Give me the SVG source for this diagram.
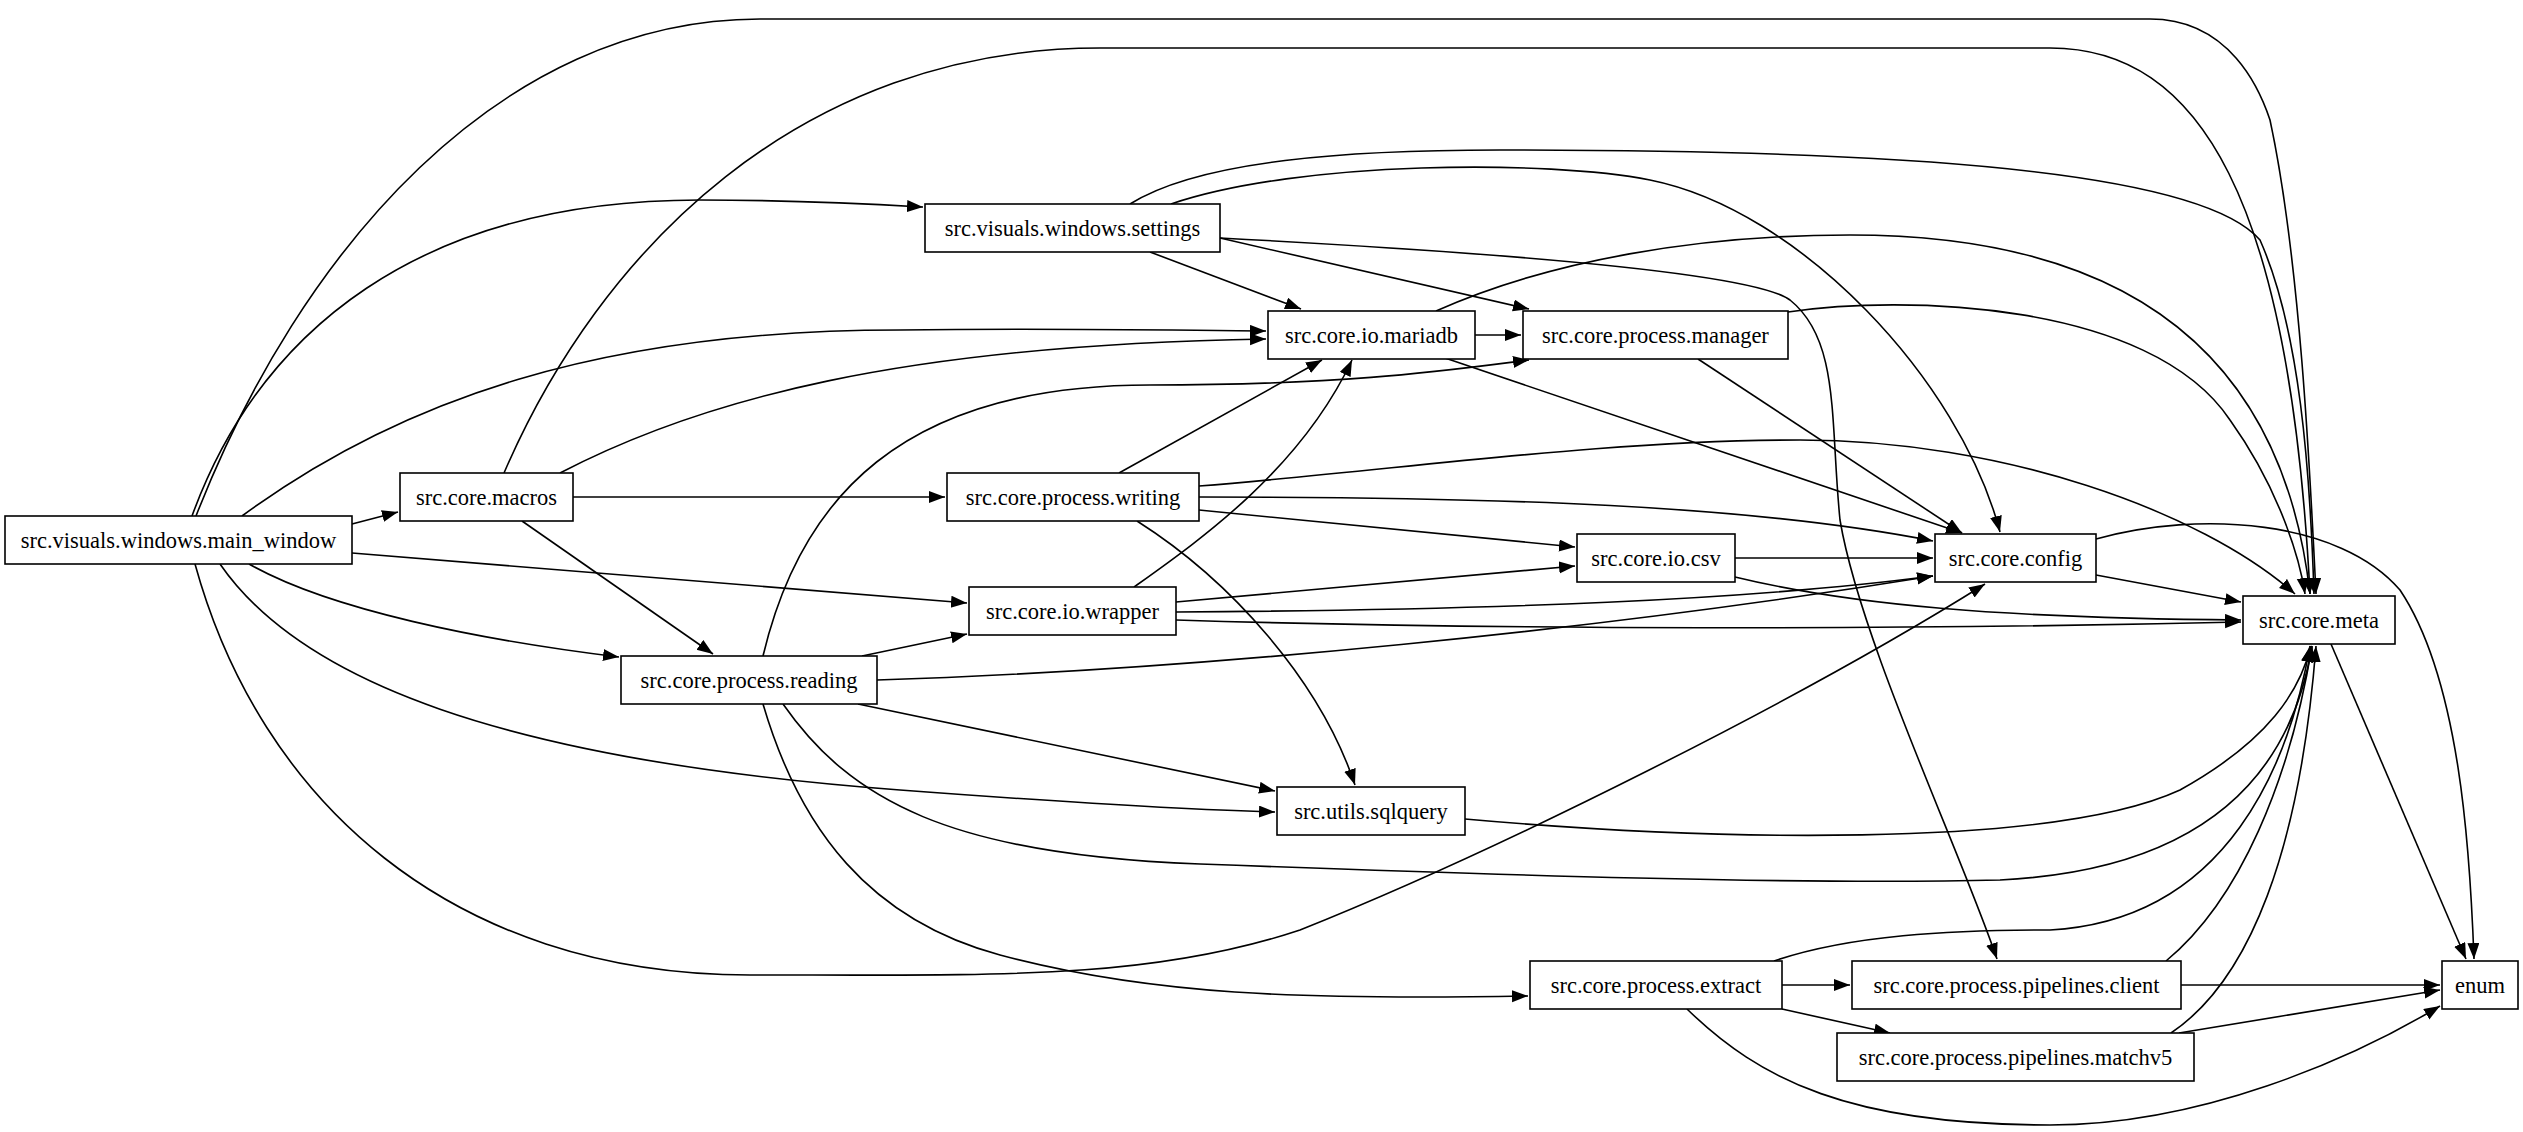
<svg xmlns="http://www.w3.org/2000/svg" width="2523" height="1132" viewBox="0 0 2523 1132">
<style>
.n rect{fill:#fff;stroke:#000;stroke-width:1.6}
.n text{font-family:"Liberation Serif",serif;font-size:22.5px;text-anchor:middle;dominant-baseline:central;fill:#000}
.e path{fill:none;stroke:#000;stroke-width:1.6;marker-end:url(#a)}
</style>
<defs><marker id="a" markerUnits="userSpaceOnUse" markerWidth="18" markerHeight="14" refX="16" refY="6" orient="auto"><path d="M0,0 L16,6 L0,12 Z" fill="#000"/></marker></defs>
<rect width="2523" height="1132" fill="#fff"/>
<g class="e">
<path d="M196,516 C300,250 500,19 760,19 L2150,19 C2230,19 2260,90 2270,120 C2300,260 2310,470 2316,594"/>
<path d="M504,473 C600,250 800,48 1100,48 L2050,48 C2200,48 2290,200 2310,594"/>
<path d="M192,516 C260,330 420,200 700,200 C800,200 870,204 923,207"/>
<path d="M1130,204 C1200,160 1350,150 1500,150 C1900,150 2200,170 2260,240 C2300,330 2310,470 2314,594"/>
<path d="M1171,204 C1300,160 1550,160 1650,180 C1800,210 1960,380 2000,532"/>
<path d="M1150,252 L1301,309"/>
<path d="M1220,238 L1529,309"/>
<path d="M1220,238 C1450,250 1750,270 1790,300 C1840,340 1830,420 1840,520 C1860,640 1960,850 1997,959"/>
<path d="M242,516 C400,400 600,330 900,330 C1050,328 1150,330 1266,331"/>
<path d="M560,473 C700,400 900,345 1266,339"/>
<path d="M352,524 L398,512"/>
<path d="M573,497 L945,497"/>
<path d="M522,521 L713,654"/>
<path d="M352,553 L967,603"/>
<path d="M249,564 C330,610 480,640 619,657"/>
<path d="M220,564 C300,680 500,760 900,790 C1100,805 1200,810 1275,812"/>
<path d="M195,564 C260,800 450,975 750,975 C1000,975 1150,980 1300,930 C1500,850 1800,700 1985,584"/>
<path d="M763,656 C800,500 900,385 1150,385 C1350,385 1450,370 1529,360"/>
<path d="M862,656 L967,634"/>
<path d="M877,680 C1200,670 1600,630 1933,576"/>
<path d="M858,704 L1275,791"/>
<path d="M783,704 C850,800 950,855 1200,864 C1500,875 1800,885 2000,880 C2200,870 2290,780 2312,646"/>
<path d="M763,704 C800,830 870,920 1000,955 C1150,995 1300,1000 1528,996"/>
<path d="M1119,473 L1322,360"/>
<path d="M1199,486 C1400,470 1600,440 1800,440 C2000,440 2200,510 2295,594"/>
<path d="M1199,497 C1500,497 1750,505 1933,541"/>
<path d="M1199,510 L1575,547"/>
<path d="M1137,521 C1230,580 1320,680 1355,785"/>
<path d="M1134,587 C1200,540 1300,470 1352,360"/>
<path d="M1176,602 L1575,566"/>
<path d="M1176,612 C1500,610 1750,600 1933,576"/>
<path d="M1176,620 C1500,630 1900,630 2241,622"/>
<path d="M1475,335 L1521,335"/>
<path d="M1436,311 C1550,260 1700,235 1850,235 C2100,235 2280,330 2310,594"/>
<path d="M1445,358 L1962,533"/>
<path d="M1788,312 C1900,295 2150,300 2230,420 C2280,490 2300,560 2305,594"/>
<path d="M1698,359 L1962,533"/>
<path d="M1735,558 L1933,558"/>
<path d="M1735,577 C1850,605 2000,618 2241,620"/>
<path d="M2096,575 L2241,602"/>
<path d="M2096,539 C2200,510 2340,520 2400,590 C2460,680 2470,850 2474,959"/>
<path d="M2331,644 L2466,959"/>
<path d="M1465,819 C1700,840 2050,850 2180,790 C2270,740 2300,690 2311,646"/>
<path d="M1774,961 C1850,935 1950,930 2050,930 C2230,920 2290,760 2310,646"/>
<path d="M1782,985 L1850,985"/>
<path d="M1782,1009 L1890,1033"/>
<path d="M1687,1009 C1760,1080 1850,1125 2050,1125 C2200,1125 2350,1060 2440,1006"/>
<path d="M2166,961 C2240,900 2290,780 2312,646"/>
<path d="M2181,985 L2440,985"/>
<path d="M2171,1033 C2250,980 2300,850 2316,646"/>
<path d="M2179,1033 L2440,990"/>
</g>
<g id="main_window" class="n"><rect x="5" y="516" width="347" height="48"/><text x="178.5" y="540">src.visuals.windows.main_window</text></g>
<g id="macros" class="n"><rect x="400" y="473" width="173" height="48"/><text x="486.5" y="497">src.core.macros</text></g>
<g id="settings" class="n"><rect x="925" y="204" width="295" height="48"/><text x="1072.5" y="228">src.visuals.windows.settings</text></g>
<g id="writing" class="n"><rect x="947" y="473" width="252" height="48"/><text x="1073" y="497">src.core.process.writing</text></g>
<g id="wrapper" class="n"><rect x="969" y="587" width="207" height="48"/><text x="1072.5" y="611">src.core.io.wrapper</text></g>
<g id="reading" class="n"><rect x="621" y="656" width="256" height="48"/><text x="749" y="680">src.core.process.reading</text></g>
<g id="mariadb" class="n"><rect x="1268" y="311" width="207" height="48"/><text x="1371.5" y="335">src.core.io.mariadb</text></g>
<g id="manager" class="n"><rect x="1523" y="311" width="265" height="48"/><text x="1655.5" y="335">src.core.process.manager</text></g>
<g id="csv" class="n"><rect x="1577" y="534" width="158" height="48"/><text x="1656" y="558">src.core.io.csv</text></g>
<g id="config" class="n"><rect x="1935" y="534" width="161" height="48"/><text x="2015.5" y="558">src.core.config</text></g>
<g id="meta" class="n"><rect x="2243" y="596" width="152" height="48"/><text x="2319" y="620">src.core.meta</text></g>
<g id="sqlquery" class="n"><rect x="1277" y="787" width="188" height="48"/><text x="1371" y="811">src.utils.sqlquery</text></g>
<g id="extract" class="n"><rect x="1530" y="961" width="252" height="48"/><text x="1656" y="985">src.core.process.extract</text></g>
<g id="client" class="n"><rect x="1852" y="961" width="329" height="48"/><text x="2016.5" y="985">src.core.process.pipelines.client</text></g>
<g id="matchv5" class="n"><rect x="1837" y="1033" width="357" height="48"/><text x="2015.5" y="1057">src.core.process.pipelines.matchv5</text></g>
<g id="enum" class="n"><rect x="2442" y="961" width="76" height="48"/><text x="2480" y="985">enum</text></g>
</svg>
